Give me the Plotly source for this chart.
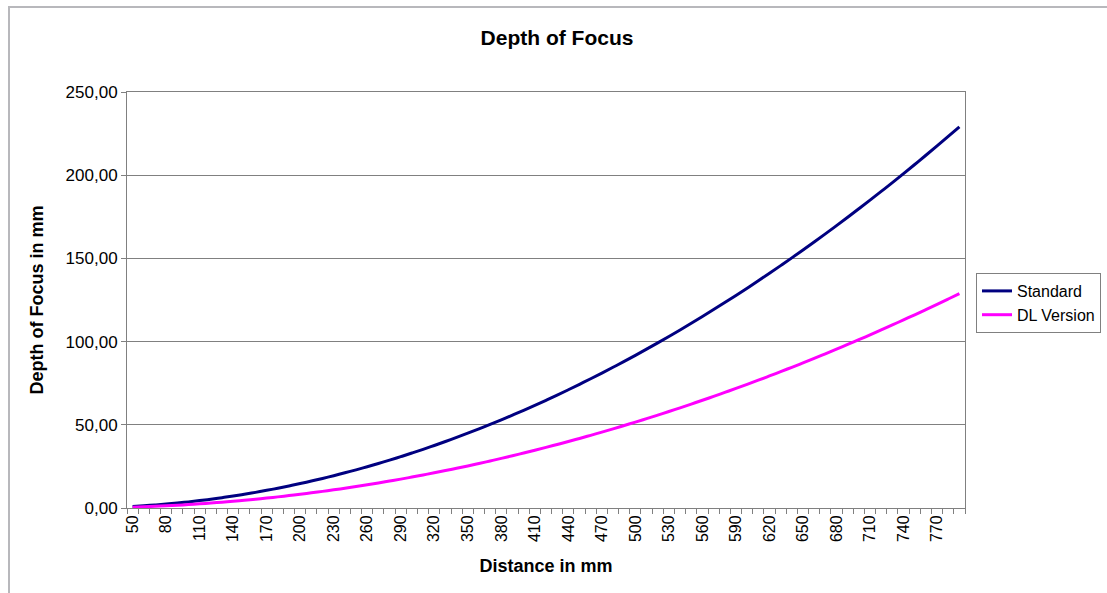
import plotly.graph_objects as go

distance = list(range(50, 800, 10))
standard = [0.92, 1.32, 1.80, 2.35, 2.97, 3.67, 4.44, 5.28, 6.20, 7.19,
            8.26, 9.40, 10.61, 11.89, 13.25, 14.68, 16.18, 17.76, 19.41, 21.14,
            22.94, 24.81, 26.75, 28.77, 30.86, 33.03, 35.27, 37.58, 39.97, 42.43,
            44.96, 47.56, 50.24, 52.99, 55.82, 58.72, 61.69, 64.74, 67.86, 71.05,
            74.32, 77.66, 81.07, 84.56, 88.12, 91.75, 95.46, 99.24, 103.09, 107.02,
            111.02, 115.09, 119.24, 123.46, 127.75, 132.12, 136.56, 141.07, 145.66, 150.32,
            155.06, 159.87, 164.75, 169.70, 174.73, 179.83, 185.00, 190.25, 195.57, 200.97,
            206.44, 211.98, 217.59, 223.28, 229.04]
dl_version = [0.52, 0.74, 1.01, 1.32, 1.67, 2.06, 2.50, 2.97, 3.49, 4.04,
              4.65, 5.29, 5.97, 6.69, 7.45, 8.26, 9.10, 9.99, 10.92, 11.89,
              12.90, 13.96, 15.05, 16.18, 17.36, 18.58, 19.84, 21.14, 22.48, 23.87,
              25.29, 26.75, 28.26, 29.81, 31.40, 33.03, 34.70, 36.42, 38.17, 39.97,
              41.81, 43.68, 45.60, 47.57, 49.57, 51.61, 53.70, 55.82, 57.99, 60.20,
              62.45, 64.74, 67.07, 69.45, 71.86, 74.32, 76.82, 79.35, 81.93, 84.56,
              87.22, 89.93, 92.67, 95.46, 98.29, 101.15, 104.06, 107.02, 110.01, 113.05,
              116.12, 119.24, 122.39, 125.60, 128.84]
x_tick_labels = list(range(50, 780, 30))
y_ticks = [0, 50, 100, 150, 200, 250]

FONT = "Arial, Liberation Sans, sans-serif"

fig = go.Figure()
fig.add_trace(go.Scatter(x=distance, y=standard, mode="lines", name="Standard",
                         line=dict(color="#000080", width=3, shape="spline")))
fig.add_trace(go.Scatter(x=distance, y=dl_version, mode="lines", name="DL Version",
                         line=dict(color="#FF00FF", width=3, shape="spline")))

W, H = 1107, 593
L, R, T, B = 127, 965, 92, 508
pw, ph = R - L, B - T

def px(x):
    return (x - L) / pw

def py(y):
    return (B - y) / ph

fig.update_layout(
    width=W, height=H,
    margin=dict(l=L, r=W - R, t=T, b=H - B, autoexpand=False),
    paper_bgcolor="white", plot_bgcolor="white",
    separators=",.",
    font=dict(family=FONT, color="#000000", size=16),
    title=dict(text="<b>Depth of Focus</b>", x=px(557), xref="paper", xanchor="center",
               y=1 - 38 / H, yanchor="middle", font=dict(size=21, family=FONT)),
    showlegend=True,
    legend=dict(x=px(976), y=py(273), xanchor="left", yanchor="top",
                bordercolor="#808080", borderwidth=1, bgcolor="white",
                font=dict(size=16, family=FONT), tracegroupgap=0,
                itemwidth=30),
    xaxis=dict(
        range=[45, 795], tickmode="array", tickvals=x_tick_labels,
        ticktext=[str(v) for v in x_tick_labels], tickangle=-90,
        ticks="", showgrid=False, zeroline=False,
        showline=True, linecolor="#808080", linewidth=1, mirror=True,
        tickfont=dict(size=16, family=FONT),
        minor=dict(ticks="outside", tickmode="linear", tick0=45, dtick=10,
                   ticklen=5, tickcolor="#808080", showgrid=False),
        title=dict(text="<b>Distance in mm</b>", font=dict(size=18, family=FONT), standoff=18),
    ),
    yaxis=dict(
        range=[0, 250], tickmode="array", tickvals=y_ticks, tickformat=".2f",
        ticks="outside", ticklen=5, tickcolor="#808080",
        showgrid=True, gridcolor="#808080", gridwidth=1, zeroline=False,
        showline=True, linecolor="#808080", linewidth=1, mirror=True,
        tickfont=dict(size=17, family=FONT),
        title=dict(text="<b>Depth of Focus in mm</b>", font=dict(size=18, family=FONT), standoff=17),
    ),
    shapes=[
        dict(type="path", xref="paper", yref="paper",
             path=f"M {px(9)} {py(600)} L {px(9)} {py(7)} L {px(1110)} {py(7)}",
             line=dict(color="#b8b8bc", width=2)),
    ],
)

fig.write_html("out.html", config={"displayModeBar": False},
               post_script="document.body.style.margin='0';")
